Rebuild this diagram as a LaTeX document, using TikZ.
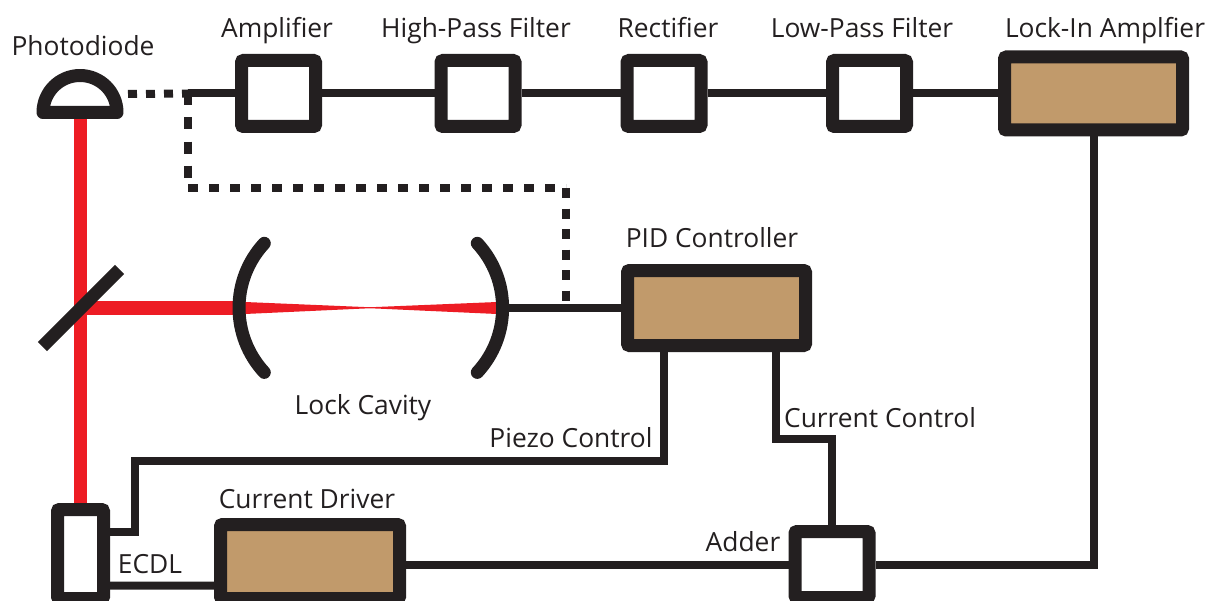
\documentclass[tikz,border=0pt]{standalone}
\usepackage{fontspec}
\setmainfont{Open Sans}
\usetikzlibrary{arrows.meta, positioning}

\definecolor{inkblack}{HTML}{231F20}
\definecolor{beamred}{HTML}{ED1C24}
\definecolor{boxtan}{HTML}{C19A6B}

\tikzset{
    unit/.style = {draw=inkblack, line width=0.26cm, rounded corners=0.04cm,
        fill=white, inner sep=0pt, minimum width=1.48cm, minimum height=1.32cm},
    bigunit/.style = {unit, fill=boxtan, minimum width=3.56cm, minimum height=1.46cm},
    wire/.style = {draw=inkblack, line width=0.16cm, line join=miter},
    dotwire/.style = {wire, dash pattern=on 0.18cm off 0.18cm},
    beam/.style = {draw=beamred, line width=0.27cm},
    optic/.style = {draw=inkblack, line width=0.26cm},
    tag/.style = {anchor=base, text=inkblack, inner sep=0pt, font=\fontsize{15}{17}\selectfont}
}

\begin{document}
\begin{tikzpicture}
    \useasboundingbox (0,0) rectangle (24.14,12);
    % \draw [help lines] (0,0) grid (24,12);

    \coordinate (pdiode) at (1.61,9.62);
    \coordinate (pdout) at (2.56,10.12);
    \coordinate (split) at (1.61,5.84);
    \coordinate (cavL) at (4.78,5.84);
    \coordinate (cavR) at (10.07,5.84);
    \coordinate (junction) at (3.76,10.13);
    \coordinate (corner) at (3.76,8.24);
    \coordinate (top) at (11.32,8.24);
    \coordinate (tap) at (11.32,5.84);
    \coordinate (piezo) at (2.70,1.36);

    \node (ecdl) [unit, minimum width=0.92cm, minimum height=1.78cm] at (1.61,0.92) {};

    % beams
    \draw [beam] (pdiode) -- (ecdl.north);
    \draw [beam] (split) -- (cavL);
    \fill [beamred] (4.90,5.96) -- (7.40,5.855) -- (9.94,5.96)
        -- (9.94,5.72) -- (7.40,5.835) -- (4.90,5.72) -- cycle;

    % optics
    \draw [optic] (2.39,6.61) -- (0.85,5.07);
    \draw [optic, line cap=round] (5.286,7.134) arc (137.2:222.8:1.9);
    \draw [optic, line cap=round] (9.546,7.134) arc (42.8:-42.8:1.9);
    \draw [optic, fill=white, line join=round] (0.86,9.75) arc (180:0:0.74) -- cycle;

    \node (amp) [unit] at (5.57,10.13) {};
    \node (hpf) [unit] at (9.56,10.13) {};
    \node (rect) [unit] at (13.28,10.13) {};
    \node (lpf) [unit] at (17.39,10.13) {};
    \node (lockin) [bigunit] at (21.87,10.13) {};
    \node (pid) [bigunit, minimum height=1.50cm] at (14.33,5.84) {};
    \node (driver) [bigunit, minimum width=3.58cm, minimum height=1.48cm] at (6.20,0.77) {};
    \node (adder) [unit] at (16.64,0.71) {};

    % signal path
    \draw [wire] (junction) -- (amp);
    \path [wire]
        (amp) edge (hpf)
        (hpf) edge (rect)
        (rect) edge (lpf)
        (lpf) edge (lockin);
    \draw [wire] (lockin.south) |- (adder.east);
    \draw [wire] (driver.east |- adder.west) -- (adder.west);
    \draw [wire] (cavR) -- (pid.west);
    \draw [wire] ([yshift=-0.63cm]ecdl.east) -- ([yshift=-0.48cm]driver.west);
    \draw [wire] ([xshift=-1.05cm]pid.south) -- ++(0,-2.18) -| (piezo) -- (piezo -| ecdl.east);
    \draw [wire] ([xshift=1.18cm]pid.south) -- ++(0,-1.74) -| (adder.north);
    \draw [dotwire] (pdout) -- (junction);
    \draw [dotwire, dash pattern=on 0.24cm off 0.24cm] (junction) -- (corner);
    \draw [dotwire, dash pattern=on 0.19cm off 0.23cm] (corner) -- (top);
    \draw [dotwire, dash pattern=on 0.2cm off 0.21cm] (top) -- (tap);

    % labels
    \node (tphoto) [tag] at (1.66,10.88) {Photodiode};
    \node (tamp) [tag] at (5.54,11.25) {Amplifier};
    \node (thpf) [tag] at (9.52,11.25) {High-Pass Filter};
    \node (trect) [tag] at (13.36,11.25) {Rectifier};
    \node (tlpf) [tag] at (17.24,11.25) {Low-Pass Filter};
    \node (tlock) [tag] at (22.10,11.25) {Lock-In Amplfier};
    \node (tpid) [tag] at (14.24,7.06) {PID Controller};
    \node (tcav) [tag] at (7.26,3.72) {Lock Cavity};
    \node (tpiezo) [tag] at (11.42,3.05) {Piezo Control};
    \node (tcur) [tag] at (17.60,3.45) {Current Control};
    \node (tdrv) [tag] at (6.14,1.83) {Current Driver};
    \node (tecdl) [tag] at (3.00,0.54) {ECDL};
    \node (tadd) [tag] at (14.86,0.98) {Adder};
\end{tikzpicture}
\end{document}
